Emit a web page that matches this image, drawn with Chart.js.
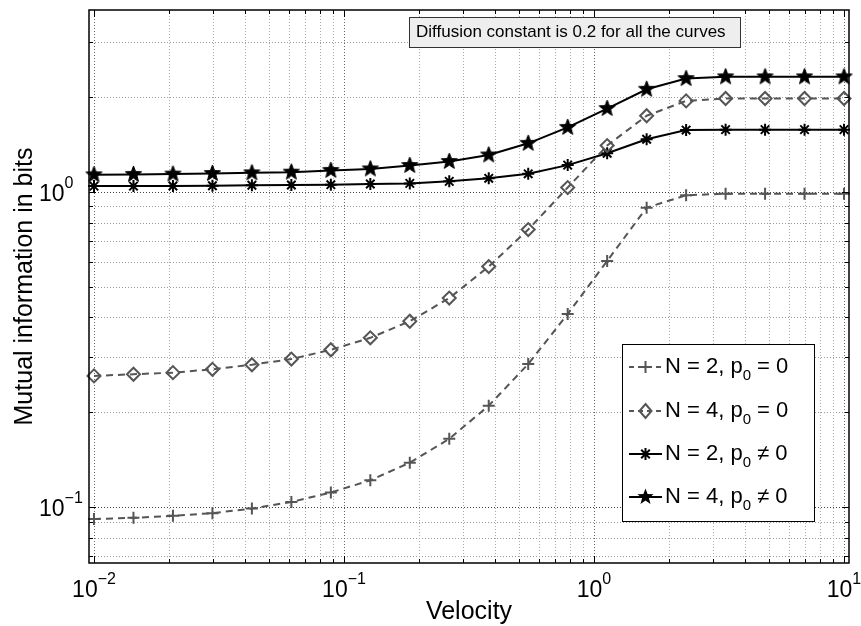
<!DOCTYPE html>
<html><head><meta charset="utf-8">
<script src="https://cdn.jsdelivr.net/npm/chart.js@4"></script>
<style>html,body{margin:0;padding:0;background:#fff}#wrap{width:861px;height:626px}</style>
</head><body><div id="wrap"><canvas id="c" width="861" height="626"></canvas></div>
<script>
// ---- data ----
const velocity = [0.01, 0.014384, 0.020691, 0.029764, 0.042813, 0.061585, 0.088587, 0.127427, 0.183298, 0.263665,
                  0.379269, 0.545559, 0.784760, 1.128838, 1.623777, 2.335721, 3.359818, 4.832930, 6.951928, 10];
const n2p0  = [0.0917,0.0925,0.0939,0.0957,0.099,0.1039,0.1113,0.1217,0.1384,0.1647,0.2099,0.2846,0.41,0.6044,0.892,0.976,0.988,0.988,0.988,0.988];
const n4p0  = [0.2609,0.2641,0.2672,0.2738,0.2831,0.2951,0.3158,0.3446,0.389,0.4607,0.58,0.76,1.033,1.404,1.746,1.946,1.98,1.98,1.98,1.98];
const n2pn  = [1.044,1.044,1.045,1.047,1.05,1.052,1.055,1.06,1.065,1.081,1.105,1.142,1.217,1.327,1.47,1.572,1.577,1.577,1.577,1.577];
const n4pn  = [1.134,1.137,1.14,1.145,1.15,1.156,1.171,1.184,1.214,1.25,1.311,1.427,1.603,1.84,2.118,2.29,2.32,2.32,2.32,2.32];
const seriesNames = ['N = 2, p|0| = 0', 'N = 4, p|0| = 0', 'N = 2, p|0| \u2260 0', 'N = 4, p|0| \u2260 0'];
const xTickLabels = [{v:0.01,e:'\u22122'},{v:0.1,e:'\u22121'},{v:1,e:'0'},{v:10,e:'1'}];
const yTickLabels = [{v:0.1,e:'\u22121'},{v:1,e:'0'}];
const xTitle = 'Velocity';
const yTitle = 'Mutual information in bits';
const note = 'Diffusion constant is 0.2 for all the curves';

const FONT = '"Liberation Sans", Arial, Helvetica, sans-serif';
const GRAY = '#555555';

function starPath(g, x, y, r){
  g.beginPath();
  for (let i=0;i<10;i++){
    const rr = i%2 ? r*0.42 : r;
    const a = -Math.PI/2 + i*Math.PI/5;
    g.lineTo(x + rr*Math.cos(a), y + rr*Math.sin(a));
  }
  g.closePath();
}
function makeStar(r){
  const s = Math.ceil(r*2+4);
  const c = document.createElement('canvas'); c.width = s; c.height = s;
  const g = c.getContext('2d');
  starPath(g, s/2, s/2, r);
  g.fillStyle = '#000'; g.fill();
  g.lineWidth = 1; g.strokeStyle = '#000'; g.stroke();
  return c;
}
const starImg = makeStar(8.5);

const pts = arr => velocity.map((v,i)=>({x:v, y:arr[i]}));

function drawMarker(ctx, kind, x, y){
  ctx.save();
  ctx.setLineDash([]);
  if (kind==='plus'){
    ctx.strokeStyle = GRAY; ctx.lineWidth = 2;
    ctx.beginPath(); ctx.moveTo(x-6,y); ctx.lineTo(x+6,y); ctx.moveTo(x,y-6); ctx.lineTo(x,y+6); ctx.stroke();
  } else if (kind==='diamond'){
    ctx.strokeStyle = GRAY; ctx.lineWidth = 2;
    ctx.beginPath(); ctx.moveTo(x,y-7); ctx.lineTo(x+6,y); ctx.lineTo(x,y+7); ctx.lineTo(x-6,y); ctx.closePath(); ctx.stroke();
  } else if (kind==='asterisk'){
    ctx.strokeStyle = '#000'; ctx.lineWidth = 2;
    ctx.beginPath();
    ctx.moveTo(x-6,y); ctx.lineTo(x+6,y); ctx.moveTo(x,y-6); ctx.lineTo(x,y+6);
    const d = 4.3; ctx.moveTo(x-d,y-d); ctx.lineTo(x+d,y+d); ctx.moveTo(x-d,y+d); ctx.lineTo(x+d,y-d);
    ctx.stroke();
  } else if (kind==='star'){
    starPath(ctx, x, y, 8.5); ctx.fillStyle='#000'; ctx.fill();
  }
  ctx.restore();
}

function drawSubText(ctx, text, x, baseline){
  const parts = text.split('|');
  let cx = x;
  parts.forEach((p,i)=>{
    if (i%2===1){ ctx.font = '15px '+FONT; ctx.fillText(p, cx, baseline+7); }
    else { ctx.font = '22px '+FONT; ctx.fillText(p, cx, baseline); }
    cx += ctx.measureText(p).width;
  });
}

const matlab = {
  id: 'matlab',
  beforeDatasetsDraw(chart){
    const ctx = chart.ctx, a = chart.chartArea, xs = chart.scales.x, ys = chart.scales.y;
    ctx.save();
    ctx.lineWidth = 1;
    ctx.setLineDash([1,2]);
    for (let d=-3; d<=1; d++){
      for (let m=1; m<=9; m++){
        const v = m*Math.pow(10,d);
        if (v>=xs.min && v<=xs.max){
          const px = Math.round(xs.getPixelForValue(v))+0.5;
          ctx.strokeStyle = m===1 ? '#666' : '#aaa';
          ctx.beginPath(); ctx.moveTo(px,a.top); ctx.lineTo(px,a.bottom); ctx.stroke();
        }
        if (v>=ys.min && v<=ys.max){
          const py = Math.round(ys.getPixelForValue(v))+0.5;
          ctx.strokeStyle = m===1 ? '#444' : '#999';
          ctx.beginPath(); ctx.moveTo(a.left,py); ctx.lineTo(a.right,py); ctx.stroke();
        }
      }
    }
    ctx.restore();
  },
  afterDatasetsDraw(chart){
    const ctx = chart.ctx, a = chart.chartArea, xs = chart.scales.x, ys = chart.scales.y;
    ctx.save();
    ctx.strokeStyle = '#000'; ctx.lineWidth = 1; ctx.setLineDash([]);
    for (let d=-3; d<=1; d++){
      for (let m=1; m<=9; m++){
        const v = m*Math.pow(10,d), L = m===1 ? 7 : 4;
        if (v>=xs.min && v<=xs.max){
          const px = Math.round(xs.getPixelForValue(v))+0.5;
          ctx.beginPath(); ctx.moveTo(px,a.bottom); ctx.lineTo(px,a.bottom-L);
          ctx.moveTo(px,a.top); ctx.lineTo(px,a.top+L); ctx.stroke();
        }
        if (v>=ys.min && v<=ys.max){
          const py = Math.round(ys.getPixelForValue(v))+0.5;
          ctx.beginPath(); ctx.moveTo(a.left,py); ctx.lineTo(a.left+L,py);
          ctx.moveTo(a.right,py); ctx.lineTo(a.right-L,py); ctx.stroke();
        }
      }
    }
    ctx.lineWidth = 1.5;
    ctx.strokeRect(a.left, a.top, a.right-a.left, a.bottom-a.top);
    ctx.fillStyle = '#000'; ctx.textAlign = 'left'; ctx.textBaseline = 'alphabetic';
    xTickLabels.forEach(t=>{
      const px = xs.getPixelForValue(t.v);
      ctx.font = '23px '+FONT; const w1 = ctx.measureText('10').width;
      ctx.font = '16px '+FONT; const w2 = ctx.measureText(t.e).width;
      const x0 = px - (w1+w2)/2;
      ctx.font = '23px '+FONT; ctx.fillText('10', x0, 597);
      ctx.font = '16px '+FONT; ctx.fillText(t.e, x0+w1, 584);
    });
    yTickLabels.forEach(t=>{
      const py = ys.getPixelForValue(t.v);
      ctx.font = '23px '+FONT; const w1 = ctx.measureText('10').width;
      ctx.fillText('10', 39, py+9);
      ctx.font = '16px '+FONT; ctx.fillText(t.e, 39+w1, py-4);
    });
    ctx.font = '25px '+FONT; ctx.textAlign = 'center';
    ctx.fillText(xTitle, (a.left+a.right)/2, 619);
    ctx.save(); ctx.translate(32, (a.top+a.bottom)/2); ctx.rotate(-Math.PI/2);
    ctx.fillText(yTitle, 0, 0); ctx.restore();
    ctx.fillStyle = '#eeeeee'; ctx.fillRect(409, 17, 331, 30);
    ctx.strokeStyle = '#333'; ctx.lineWidth = 1; ctx.strokeRect(409.5, 17.5, 331, 30);
    ctx.fillStyle = '#000'; ctx.textAlign = 'left'; ctx.font = '17px '+FONT;
    ctx.fillText(note, 416, 37);
    ctx.fillStyle = '#fff'; ctx.fillRect(622, 344, 192, 177);
    ctx.strokeStyle = '#000'; ctx.lineWidth = 1; ctx.strokeRect(622.5, 344.5, 192, 177);
    const kinds = ['plus','diamond','asterisk','star'];
    const ly = [367, 411, 454, 497];
    kinds.forEach((k,i)=>{
      const y = ly[i];
      ctx.save();
      if (i<2){ ctx.strokeStyle = GRAY; ctx.lineWidth = 2; ctx.setLineDash([5,4]); }
      else { ctx.strokeStyle = '#000'; ctx.lineWidth = 2; ctx.setLineDash([]); }
      ctx.beginPath(); ctx.moveTo(629,y); ctx.lineTo(662,y); ctx.stroke();
      ctx.restore();
      drawMarker(ctx, k, 645.5, y);
      ctx.fillStyle = '#000'; ctx.textAlign = 'left';
      drawSubText(ctx, seriesNames[i], 665, y+6);
    });
    ctx.restore();
  }
};

new Chart(document.getElementById('c'), {
  type: 'line',
  data: {
    datasets: [
      {label: seriesNames[0], data: pts(n2p0), borderColor: GRAY, borderWidth: 2, borderDash: [7,5],
       pointStyle: 'cross', pointRadius: 6, pointBorderWidth: 2, pointBorderColor: GRAY, pointBackgroundColor: 'transparent', fill: false},
      {label: seriesNames[1], data: pts(n4p0), borderColor: GRAY, borderWidth: 2, borderDash: [7,5],
       pointStyle: 'rectRot', pointRadius: 6.5, pointBorderWidth: 2, pointBorderColor: GRAY, pointBackgroundColor: 'rgba(0,0,0,0)', fill: false},
      {label: seriesNames[2], data: pts(n2pn), borderColor: '#000', borderWidth: 2,
       pointStyle: 'star', pointRadius: 6, pointBorderWidth: 2, pointBorderColor: '#000', pointBackgroundColor: '#000', fill: false},
      {label: seriesNames[3], data: pts(n4pn), borderColor: '#000', borderWidth: 2,
       pointStyle: starImg, pointRadius: 8, pointBorderColor: '#000', pointBackgroundColor: '#000', fill: false}
    ]
  },
  options: {
    responsive: false, animation: false, devicePixelRatio: 1,
    layout: {padding: {left: 89, top: 7, right: 12, bottom: 63}},
    elements: {line: {tension: 0}},
    datasets: {line: {clip: false}},
    plugins: {legend: {display: false}, tooltip: {enabled: false}},
    scales: {
      x: {type: 'logarithmic', min: 0.00955, max: 10.47, display: false},
      y: {type: 'logarithmic', min: 0.0665, max: 3.78, display: false}
    }
  },
  plugins: [matlab]
});
</script>
</body></html>
